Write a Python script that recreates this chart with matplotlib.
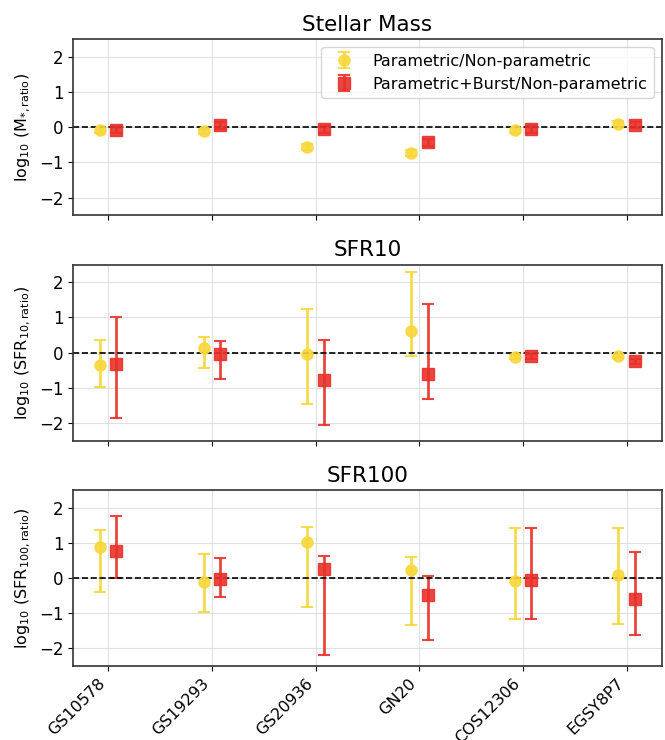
import numpy as np
import matplotlib
matplotlib.use("Agg")
import matplotlib.pyplot as plt

galaxies = ["GS10578", "GS19293", "GS20936", "GN20", "COS12306", "EGSY8P7"]

# stellar mass ratios (log10)
mass_par = [-0.07, -0.12, -0.57, -0.74, -0.08, 0.10]
mass_par_lo = [0.08, 0.08, 0.09, 0.09, 0.08, 0.08]
mass_par_hi = [0.08, 0.08, 0.09, 0.09, 0.08, 0.08]
mass_burst = [-0.07, 0.05, -0.06, -0.43, -0.06, 0.07]
mass_burst_lo = [0.09, 0.09, 0.09, 0.10, 0.09, 0.09]
mass_burst_hi = [0.09, 0.09, 0.09, 0.10, 0.09, 0.09]

# SFR10 ratios: value, lower end, upper end
sfr10_par = [-0.35, 0.12, -0.04, 0.60, -0.12, -0.09]
sfr10_par_min = [-0.99, -0.45, -1.46, -0.09, -0.18, -0.15]
sfr10_par_max = [0.35, 0.44, 1.25, 2.30, -0.06, -0.03]
sfr10_burst = [-0.31, -0.05, -0.77, -0.61, -0.11, -0.25]
sfr10_burst_min = [-1.87, -0.75, -2.06, -1.32, -0.19, -0.33]
sfr10_burst_max = [1.01, 0.34, 0.36, 1.39, -0.03, -0.17]

# SFR100 ratios
sfr100_par = [0.89, -0.12, 1.03, 0.23, -0.08, 0.08]
sfr100_par_min = [-0.39, -0.97, -0.83, -1.33, -1.17, -1.30]
sfr100_par_max = [1.37, 0.69, 1.45, 0.60, 1.41, 1.42]
sfr100_burst = [0.78, -0.04, 0.26, -0.49, -0.06, -0.61]
sfr100_burst_min = [0.01, -0.54, -2.18, -1.75, -1.17, -1.61]
sfr100_burst_max = [1.75, 0.58, 0.63, 0.07, 1.41, 0.75]

yellow = "#f7d73b"
red = "#e8312a"
x = np.arange(len(galaxies))
off = 0.08


def errs(val, lo, hi):
    val = np.array(val)
    return [val - np.array(lo), np.array(hi) - val]


fig, axes = plt.subplots(3, 1, figsize=(6.65, 7.4), dpi=100, sharex=True)
fig.subplots_adjust(left=0.11, right=0.995, top=0.947, bottom=0.10, hspace=0.28)

panels = [
    ("Stellar Mass", r"log$_{10}$ (M$_{*,\rm ratio}$)",
     mass_par, [mass_par_lo, mass_par_hi],
     mass_burst, [mass_burst_lo, mass_burst_hi]),
    ("SFR10", r"log$_{10}$ (SFR$_{10,\rm ratio}$)",
     sfr10_par, errs(sfr10_par, sfr10_par_min, sfr10_par_max),
     sfr10_burst, errs(sfr10_burst, sfr10_burst_min, sfr10_burst_max)),
    ("SFR100", r"log$_{10}$ (SFR$_{100,\rm ratio}$)",
     sfr100_par, errs(sfr100_par, sfr100_par_min, sfr100_par_max),
     sfr100_burst, errs(sfr100_burst, sfr100_burst_min, sfr100_burst_max)),
]

for ax, (title, ylab, yv, ye, rv, re) in zip(axes, panels):
    ax.errorbar(x - off, yv, yerr=ye, fmt="o", color=yellow, ms=8, elinewidth=2,
                capsize=4, capthick=1.5, alpha=0.9, label="Parametric/Non-parametric")
    ax.errorbar(x + off, rv, yerr=re, fmt="s", color=red, ms=8, elinewidth=2,
                capsize=4, capthick=1.5, alpha=0.9, label="Parametric+Burst/Non-parametric")
    ax.axhline(0, color="black", ls="--", lw=1.2)
    ax.set_ylim(-2.5, 2.5)
    ax.set_yticks([-2, -1, 0, 1, 2])
    ax.grid(True, color="#e0e0e0", lw=0.8)
    ax.set_axisbelow(True)
    ax.set_title(title, fontsize=15.5)
    ax.set_ylabel(ylab, fontsize=11.5)
    ax.tick_params(labelsize=12)
    for s in ax.spines.values():
        s.set_color("#333333")
        s.set_linewidth(1.2)

axes[0].legend(loc="upper right", fontsize=11.5)
axes[2].set_xticks(x)
axes[2].set_xticklabels(galaxies, rotation=45, ha="right", fontsize=11.5)

plt.savefig("out.png")
